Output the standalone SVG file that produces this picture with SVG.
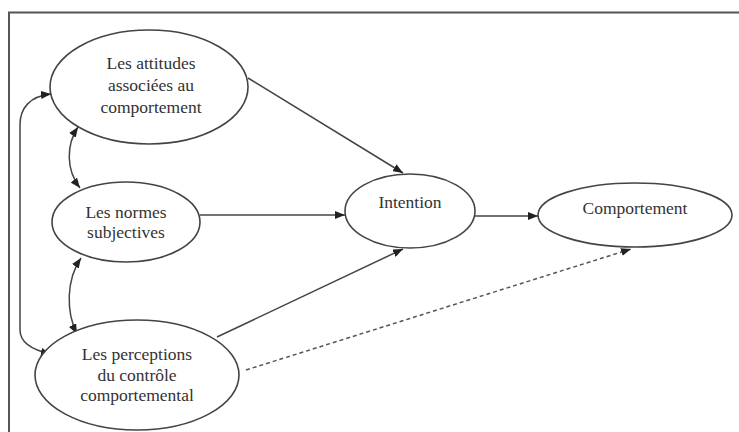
<svg xmlns="http://www.w3.org/2000/svg" width="739" height="432" viewBox="0 0 739 432">
<style>
.node ellipse{fill:#fff;stroke:#444;stroke-width:1.6}
.node text{font-family:'Liberation Serif','DejaVu Serif',serif;font-size:17.5px;fill:#333;text-anchor:middle}
.edge{fill:none;stroke:#444;stroke-width:1.5}
.dash{stroke-dasharray:4 3;stroke:#555}
</style>
<defs>
<marker id="ah" viewBox="0 0 10 8" refX="10" refY="4" markerWidth="10" markerHeight="8" markerUnits="userSpaceOnUse" orient="auto-start-reverse">
<path d="M0,0 L10,4 L0,8 z" fill="#222"/>
</marker>
</defs>
<rect width="739" height="432" fill="#fff"/>
<path d="M9,432 L9,12.5 L739,12.5" fill="none" stroke="#555" stroke-width="2"/>
<g id="connectors">
<path class="edge" d="M248,78 L403,173" marker-end="url(#ah)"/>
<path class="edge" d="M200,215 L345,215" marker-end="url(#ah)"/>
<path class="edge" d="M217,337 L403,249" marker-end="url(#ah)"/>
<path class="edge" d="M475,216 L538,216" marker-end="url(#ah)"/>
<path class="edge dash" d="M246,370 L631,249" marker-end="url(#ah)"/>
<path class="edge" d="M78,127 C66,145 66,170 80,188" marker-start="url(#ah)" marker-end="url(#ah)"/>
<path class="edge" d="M81,258 C66,280 66,312 77,334" marker-start="url(#ah)" marker-end="url(#ah)"/>
<path class="edge" d="M51,94 C30,96 20,108 20,125 L20,330 C20,343 32,350 51,354" marker-start="url(#ah)" marker-end="url(#ah)"/>
</g>
<g id="attitudes" class="node" font-family="Liberation Serif, serif">
<ellipse cx="149" cy="87" rx="99" ry="57"/>
<text x="151" y="69">Les attitudes</text>
<text x="151" y="91">associées au</text>
<text x="151" y="113">comportement</text>
</g>
<g id="normes" class="node">
<ellipse cx="126" cy="222" rx="74" ry="40"/>
<text x="126" y="218">Les normes</text>
<text x="126" y="238">subjectives</text>
</g>
<g id="perceptions" class="node">
<ellipse cx="137" cy="375" rx="102" ry="55"/>
<text x="137" y="360">Les perceptions</text>
<text x="137" y="381">du contrôle</text>
<text x="137" y="401">comportemental</text>
</g>
<g id="intention" class="node">
<ellipse cx="410" cy="211" rx="65" ry="37"/>
<text x="410" y="208">Intention</text>
</g>
<g id="comportement" class="node">
<ellipse cx="635" cy="215" rx="97" ry="32"/>
<text x="635" y="214">Comportement</text>
</g>
</svg>
